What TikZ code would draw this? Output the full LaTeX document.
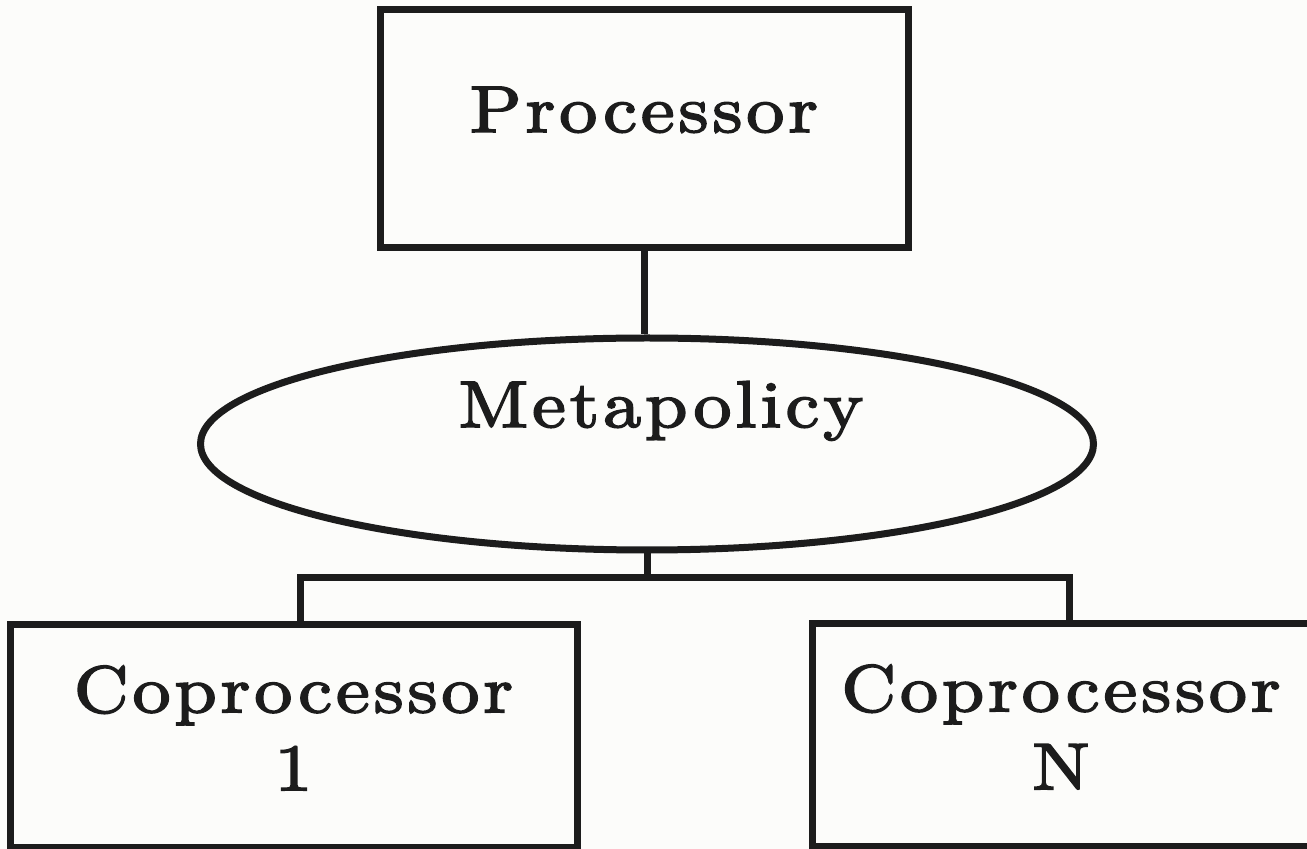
\documentclass[tikz,border=0pt]{standalone}
\usepackage{fontspec}
\setmainfont{lmroman10-regular.otf}[FakeStretch=1.15, LetterSpace=6, FakeBold=2.6]
\usetikzlibrary{shapes.geometric}
\definecolor{ink}{HTML}{1C1C1C}
\definecolor{paper}{HTML}{FCFCFA}
\tikzset{
  frame/.style={draw=ink, line width=3.5pt, inner sep=0pt, text=ink,
    font=\fontsize{33}{39}\selectfont},
  boxnode/.style={frame, rectangle},
  ovalnode/.style={frame, ellipse},
  wire/.style={draw=ink, line width=3.5pt, line join=miter},
}
\begin{document}
\begin{tikzpicture}[x=0.5pt, y=-0.5pt]
  \fill[paper] (0,0) rectangle (1307,849);
  \useasboundingbox (0,0) rectangle (1307,849);

  % main processor and the metapolicy layer below it
  \node[boxnode, minimum width=264pt, minimum height=119pt,
        text height=24pt, text depth=21pt] (proc) at (644,129) {Processor};
  \node[ovalnode, minimum width=446.5pt, minimum height=106pt,
        text height=24pt, text depth=41pt] (meta) at (647,444)
        {\hspace*{14pt}Metapolicy};

  % coprocessors
  \node[boxnode, align=center, minimum width=283.5pt, minimum height=111pt]
        (cp1) at (293.5,736) {Coprocessor\\1\rule[-8pt]{0pt}{0pt}};
  \node[boxnode, align=center, minimum width=249pt, minimum height=111pt]
        (cpn) at (1061,735) {Coprocessor\\N\rule[-8pt]{0pt}{0pt}};

  % connecting lines
  \coordinate (busL) at (300,578);
  \coordinate (busR) at (1069,578);
  \draw[wire] (proc.south) -- (proc.south |- meta.north);
  \draw[wire] (meta.south) -- (meta.south |- busL);
  \draw[wire] (busL |- cp1.north) -- (busL) -- (busR) -- (busR |- cpn.north);
\end{tikzpicture}
\end{document}
